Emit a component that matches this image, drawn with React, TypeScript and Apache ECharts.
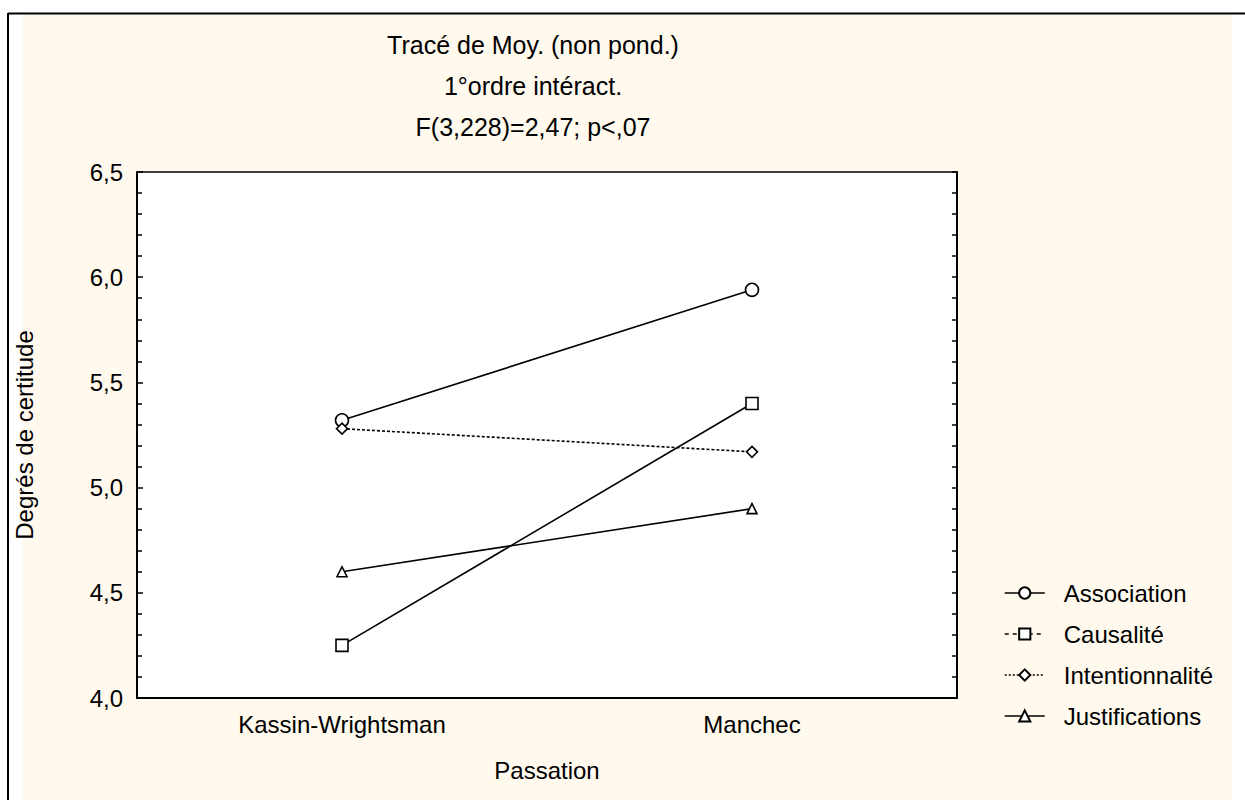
import React, { useEffect, useRef } from "react";
import * as echarts from "echarts";

const categories = ["Kassin-Wrightsman", "Manchec"];
const seriesNames = ["Association", "Causalité", "Intentionnalité", "Justifications"];
const association = [5.32, 5.94];
const causalite = [4.25, 5.4];
const intentionnalite = [5.28, 5.17];
const justifications = [4.6, 4.9];
const titleLines = ["Tracé de Moy. (non pond.)", "1°ordre intéract.", "F(3,228)=2,47; p<,07"];
const yAxisName = "Degrés de certitude";
const xAxisName = "Passation";
const yMin = 4;
const yMax = 6.5;
const yInterval = 0.5;

const FONT = "'Liberation Sans', Arial, sans-serif";
const FS = 24;

export default function App() {
  const ref = useRef<HTMLDivElement>(null);
  useEffect(() => {
    if (!ref.current) return;
    const chart = echarts.init(ref.current, undefined, { renderer: "svg" });
    const mk = (name: string, data: number[], symbol: string, size: number, lineType: any) => ({
      name,
      type: "line",
      data,
      xAxisIndex: 0,
      yAxisIndex: 0,
      symbol,
      symbolSize: size,
      showSymbol: true,
      z: 3,
      lineStyle: { color: "#000", width: 1.6, type: lineType },
      itemStyle: { color: "#fff", borderColor: "#000", borderWidth: 1.6 },
      emphasis: { disabled: true },
    });
    const series = [
      mk(seriesNames[0], association, "circle", 13, "solid"),
      mk(seriesNames[1], causalite, "rect", 12, "solid"),
      mk(seriesNames[2], intentionnalite, "diamond", 11, [3, 2]),
      mk(seriesNames[3], justifications, "triangle", 10, "solid"),
    ];
    const titleY = [45, 86, 127];
    chart.setOption({
      animation: false,
      textStyle: { fontFamily: FONT },
      graphic: [
        { type: "rect", z: -10, shape: { x: 23, y: 15, width: 1209, height: 785 }, style: { fill: "#FFF9EE" } },
        { type: "line", z: 10, shape: { x1: 8, y1: 13.5, x2: 1245, y2: 13.5 }, style: { stroke: "#000", lineWidth: 2 } },
        { type: "line", z: 10, shape: { x1: 8, y1: 13, x2: 8, y2: 800 }, style: { stroke: "#000", lineWidth: 2 } },
        ...titleLines.map((t, i) => ({
          type: "text",
          z: 10,
          x: 533,
          y: titleY[i],
          style: {
            text: t,
            fontSize: 25,
            fontFamily: FONT,
            fill: "#000",
            textAlign: "center",
            textVerticalAlign: "middle",
          },
        })),
      ],
      grid: {
        left: 137,
        top: 172,
        width: 820,
        height: 526,
        show: true,
        backgroundColor: "#fff",
        borderWidth: 0,
        containLabel: false,
      },
      legend: {
        orient: "vertical",
        left: 999,
        top: 576,
        itemWidth: 40,
        itemHeight: 14,
        itemGap: 17,
        textStyle: { fontSize: FS, color: "#000", fontFamily: FONT, padding: [0, 0, 0, 14] },
        data: [
          { name: seriesNames[0], lineStyle: { type: "solid", width: 1.5 } },
          { name: seriesNames[1], lineStyle: { type: [4, 4], width: 1.5 } },
          { name: seriesNames[2], lineStyle: { type: [2, 2], width: 1.5 } },
          { name: seriesNames[3], lineStyle: { type: "solid", width: 1.5 } },
        ],
        selectedMode: false,
      },
      xAxis: [
        {
          type: "category",
          data: categories,
          position: "bottom",
          boundaryGap: true,
          axisLine: { lineStyle: { color: "#000", width: 2 } },
          axisTick: { inside: true, alignWithLabel: true, length: 6, lineStyle: { color: "#000", width: 1.5 } },
          axisLabel: { fontSize: FS, color: "#000", margin: 14, fontFamily: FONT },
          splitLine: { show: false },
          name: xAxisName,
          nameLocation: "middle",
          nameGap: 60,
          nameTextStyle: { fontSize: FS, color: "#000", fontFamily: FONT },
        },
        {
          type: "category",
          data: categories,
          position: "top",
          boundaryGap: true,
          axisLine: { lineStyle: { color: "#000", width: 1.5 } },
          axisTick: { inside: true, alignWithLabel: true, length: 6, lineStyle: { color: "#000", width: 1.5 } },
          axisLabel: { show: false },
          splitLine: { show: false },
        },
      ],
      yAxis: [
        {
          type: "value",
          min: yMin,
          max: yMax,
          interval: yInterval,
          position: "left",
          axisLine: { show: true, lineStyle: { color: "#000", width: 2 } },
          axisTick: { show: true, inside: true, length: 6, lineStyle: { color: "#000", width: 1.5 } },
          minorTick: { show: true, splitNumber: 5, length: 5, lineStyle: { color: "#000", width: 1.5 } },
          axisLabel: {
            fontSize: FS,
            color: "#000",
            margin: 14,
            fontFamily: FONT,
            formatter: (v: number) => v.toFixed(1).replace(".", ","),
          },
          splitLine: { show: false },
          name: yAxisName,
          nameLocation: "middle",
          nameGap: 101,
          nameTextStyle: { fontSize: FS, color: "#000", fontFamily: FONT },
        },
        {
          type: "value",
          min: yMin,
          max: yMax,
          interval: yInterval,
          position: "right",
          axisLine: { show: true, lineStyle: { color: "#000", width: 2 } },
          axisTick: { show: true, inside: true, length: 5, lineStyle: { color: "#000", width: 1.5 } },
          minorTick: { show: true, splitNumber: 5, length: 5, lineStyle: { color: "#000", width: 1.5 } },
          axisLabel: { show: false },
          splitLine: { show: false },
        },
      ],
      series,
    });
    return () => chart.dispose();
  }, []);
  return (
    <div
      ref={ref}
      style={{ position: "absolute", left: 0, top: 0, width: 1245, height: 800, background: "#fff" }}
    />
  );
}
